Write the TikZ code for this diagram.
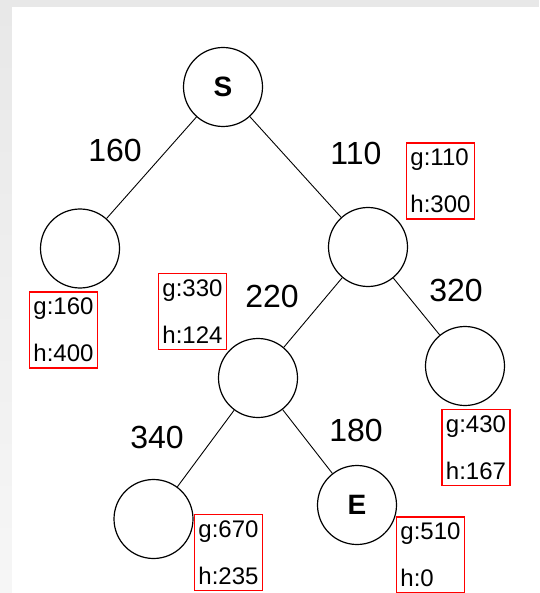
\documentclass[tikz,border=0pt]{standalone}
\usepackage{fontspec}
\setmainfont{Liberation Sans}
\usetikzlibrary{positioning}
\tikzset{
    state/.style={circle, draw=black, line width=1.2pt, minimum size=79pt, inner sep=0pt, font=\fontsize{28}{32}\selectfont\bfseries},
    cost/.style={font=\fontsize{32}{36}\selectfont},
    info/.style={rectangle, draw=red, line width=1.4pt, align=left, inner xsep=4pt, minimum height=76pt, font=\fontsize{24}{47}\selectfont},
    line/.style={line width=0.9pt},
}
\begin{document}
\begin{tikzpicture}[x=1pt, y=-1pt]

        % Background
        \fill[gray!18] (0,0) rectangle (539,593);
        \shade[top color=gray!18, bottom color=gray!7] (0,7) rectangle (12,593);
        \fill[white] (12,7) rectangle (539,593);
        \useasboundingbox (0,0) rectangle (539,593);

        % Nodes of the search tree
        \node[state] (s) at (223,87) {S};
        \node[state] (a) at (80,248.5) {};
        \node[state] (b) at (368,247) {};
        \node[state] (c) at (258,378) {};
        \node[state] (d) at (465,366) {};
        \node[state] (f) at (153.5,519) {};
        \node[state] (e) at (357,505) {E};

        % Edges
        \draw[line] (s) -- (a);
        \draw[line] (s) -- (b);
        \draw[line] (b) -- (c);
        \draw[line] (b) -- (d);
        \draw[line] (c) -- (f);
        \draw[line] (c) -- (e);

        % Edge costs
        \node[cost] (sa) at (115,150) {160};
        \node[cost] (sb) at (356,153) {110};
        \node[cost] (bc) at (272,296) {220};
        \node[cost] (bd) at (456,290) {320};
        \node[cost] (cf) at (157,437) {340};
        \node[cost] (ce) at (356,430) {180};

        % g and h values
        \node[info] (gb) at (440.5,181) {g:110\\h:300};
        \node[info] (ga) at (63.5,330) {g:160\\h:400};
        \node[info] (gc) at (192.5,311.5) {g:330\\h:124};
        \node[info] (gd) at (476,447.5) {g:430\\h:167};
        \node[info] (gf) at (228.5,552.5) {g:670\\h:235};
        \node[info] (ge) at (430.5,555) {g:510\\h:0};
    \end{tikzpicture}
\end{document}
